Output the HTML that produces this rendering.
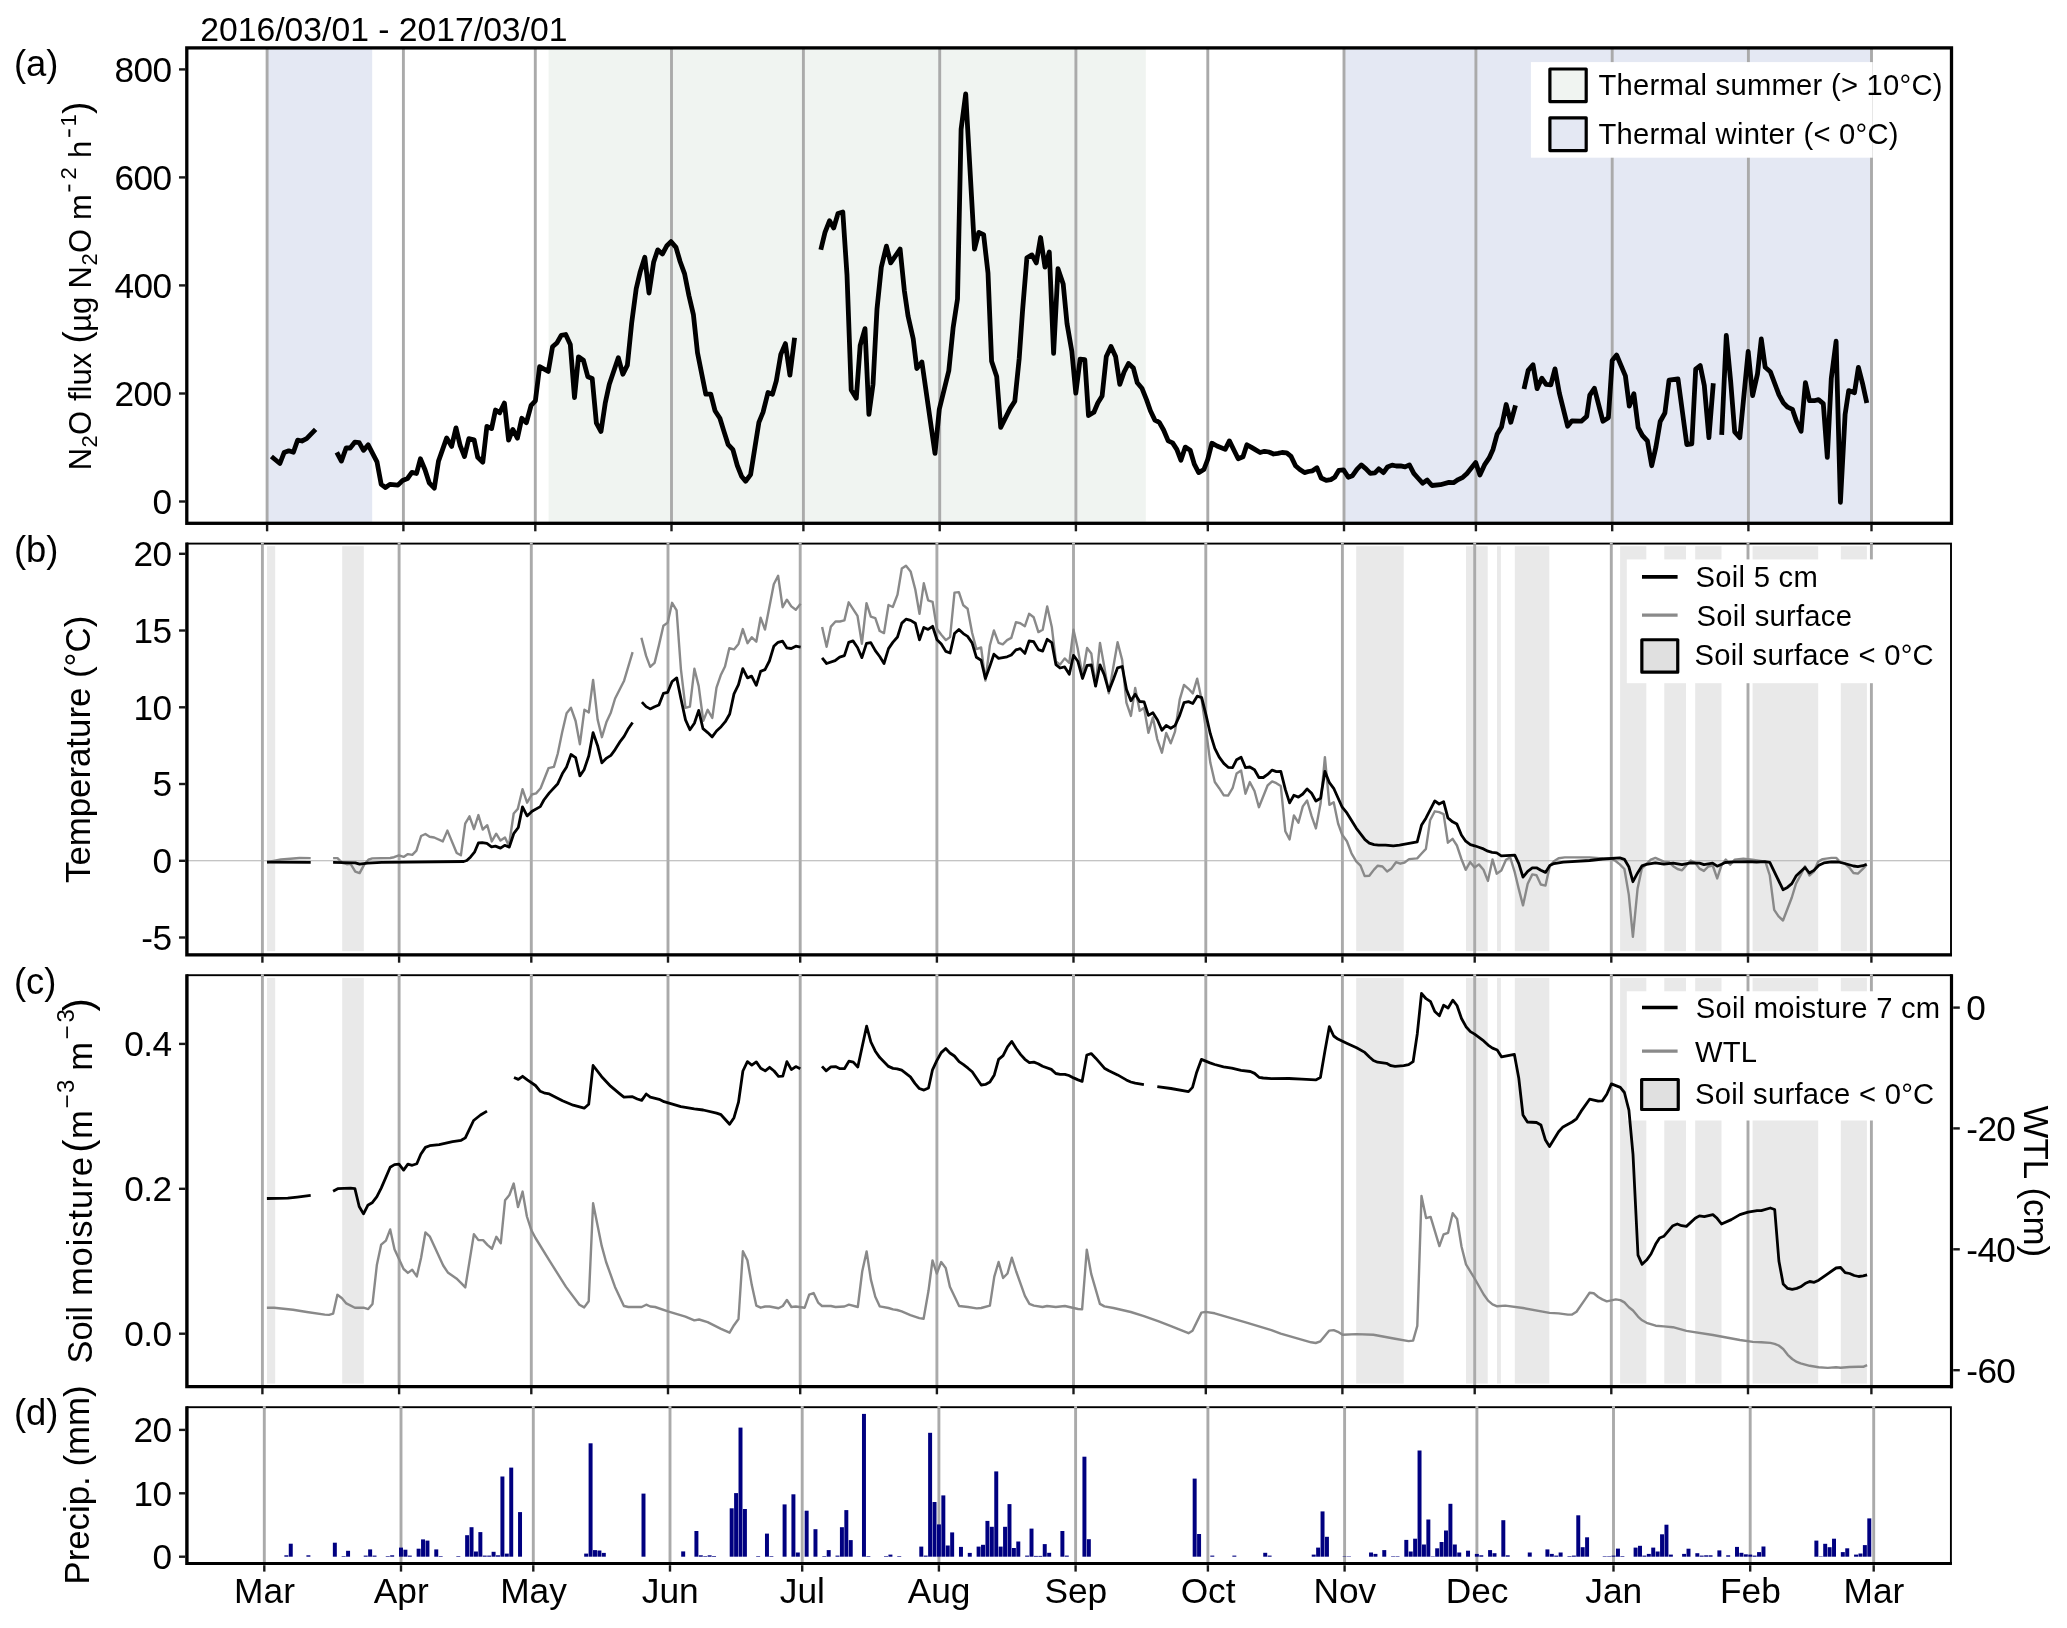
<!DOCTYPE html>
<html><head><meta charset="utf-8"><title>N2O flux time series</title>
<style>html,body{margin:0;padding:0;background:#fff}svg{display:block}</style></head>
<body>
<div id="fig" style="width:2067px;height:1628px;will-change:transform">
<svg width="2067" height="1628" viewBox="0 0 2067 1628">
<rect width="2067" height="1628" fill="#fff"/>
<g id="pa">
<rect x="267" y="47.9" width="105.2" height="475.4" fill="#e4e8f3"/>
<rect x="548.6" y="47.9" width="597.2" height="475.4" fill="#f0f4f1"/>
<rect x="1344" y="47.9" width="527.5" height="475.4" fill="#e4e8f3"/>
<line x1="267.1" x2="267.1" y1="47.9" y2="523.3" stroke="#aaaaaa" stroke-width="2.9"/>
<line x1="403.4" x2="403.4" y1="47.9" y2="523.3" stroke="#aaaaaa" stroke-width="2.9"/>
<line x1="535.3" x2="535.3" y1="47.9" y2="523.3" stroke="#aaaaaa" stroke-width="2.9"/>
<line x1="671.5" x2="671.5" y1="47.9" y2="523.3" stroke="#aaaaaa" stroke-width="2.9"/>
<line x1="803.4" x2="803.4" y1="47.9" y2="523.3" stroke="#aaaaaa" stroke-width="2.9"/>
<line x1="939.7" x2="939.7" y1="47.9" y2="523.3" stroke="#aaaaaa" stroke-width="2.9"/>
<line x1="1075.9" x2="1075.9" y1="47.9" y2="523.3" stroke="#aaaaaa" stroke-width="2.9"/>
<line x1="1207.8" x2="1207.8" y1="47.9" y2="523.3" stroke="#aaaaaa" stroke-width="2.9"/>
<line x1="1344.0" x2="1344.0" y1="47.9" y2="523.3" stroke="#aaaaaa" stroke-width="2.9"/>
<line x1="1475.9" x2="1475.9" y1="47.9" y2="523.3" stroke="#aaaaaa" stroke-width="2.9"/>
<line x1="1612.2" x2="1612.2" y1="47.9" y2="523.3" stroke="#aaaaaa" stroke-width="2.9"/>
<line x1="1748.4" x2="1748.4" y1="47.9" y2="523.3" stroke="#aaaaaa" stroke-width="2.9"/>
<line x1="1871.5" x2="1871.5" y1="47.9" y2="523.3" stroke="#aaaaaa" stroke-width="2.9"/>
<path d="M271.4 456.5 L279.9 463.5 L284.1 452.6 L288.8 450.8 L293.4 452.2 L297.6 440.2 L301.9 441.0 L306.6 438.7 L315.6 429.4 M336.8 452.3 L341.4 461.1 L346.1 448.0 L350.2 448.0 L354.9 442.1 L359.2 442.6 L363.5 450.3 L368.2 444.9 L377.0 461.9 L381.2 484.4 L385.5 487.5 L389.9 484.4 L397.9 485.1 L402.6 480.5 L407.5 478.5 L411.9 472.4 L416.5 473.5 L420.4 458.8 L425.0 469.7 L429.2 482.8 L434.3 488.2 L438.5 461.1 L446.7 437.9 L451.6 446.4 L456.0 427.9 L460.2 445.7 L464.5 456.5 L468.8 438.7 L474.1 439.8 L477.7 457.3 L482.8 462.2 L486.9 426.3 L491.6 428.6 L495.5 410.0 L499.7 412.8 L504.4 403.1 L508.6 440.2 L512.8 429.4 L517.4 438.2 L521.8 418.3 L526.4 422.7 L531.1 405.4 L535.4 400.8 L539.6 366.7 L548.3 371.4 L552.5 346.8 L557.1 342.7 L561.2 335.3 L565.7 334.5 L570.3 344.4 L574.5 397.5 L578.5 356.8 L583.4 360.2 L587.8 376.7 L592.2 378.4 L596.4 423.2 L601.0 431.5 L605.2 403.3 L609.3 384.2 L618.3 357.7 L622.9 374.3 L627.4 365.1 L631.7 322.8 L636.2 288.8 L640.3 271.4 L644.8 257.3 L649.0 293.0 L653.6 262.3 L657.7 249.9 L662.4 254.0 L666.9 245.7 L671.0 241.6 L676.0 247.4 L680.1 261.5 L684.6 273.9 L688.9 295.5 L693.4 314.6 L697.5 352.7 L705.8 394.2 L710.8 394.2 L715.0 410.7 L719.9 418.2 L723.7 430.6 L728.2 444.7 L732.9 449.7 L737.3 465.5 L741.5 476.2 L745.6 481.2 L750.6 474.6 L754.8 448.1 L758.9 422.3 L763.0 412.4 L768.0 392.5 L772.5 394.2 L776.3 380.9 L780.8 354.4 L785.4 343.6 L789.9 375.1 L794.6 337.8 M820.8 249.8 L825.0 232.4 L829.5 220.8 L833.7 228.0 L838.0 213.5 L842.8 212.0 L847.0 275.0 L851.2 390.0 L856.3 398.3 L860.2 345.3 L865.0 328.6 L868.9 414.3 L873.0 384.5 L877.0 309.0 L881.3 267.2 L886.4 246.2 L890.7 262.9 L900.1 249.1 L904.4 291.0 L908.1 316.3 L913.2 338.8 L916.8 368.5 L921.9 362.0 L935.0 453.4 L939.3 409.2 L948.8 370.7 L953.1 327.9 L957.5 299.0 L961.1 129.3 L965.7 93.8 L974.5 249.1 L978.8 232.4 L983.6 234.6 L988.0 273.0 L991.6 361.3 L996.7 376.5 L1000.7 427.3 L1010.2 408.4 L1014.8 401.2 L1019.2 358.4 L1022.6 310.0 L1026.9 257.8 L1031.9 254.9 L1036.3 262.9 L1040.6 237.5 L1045.0 267.2 L1049.3 252.0 L1053.6 353.3 L1058.0 268.7 L1063.2 284.0 L1067.0 323.5 L1071.8 351.1 L1075.8 393.2 L1080.1 359.1 L1084.8 359.7 L1088.5 415.5 L1093.9 412.2 L1097.8 403.0 L1102.1 396.0 L1106.3 356.5 L1111.0 346.4 L1115.6 356.5 L1119.8 384.4 L1124.1 372.0 L1128.5 363.5 L1133.4 368.1 L1137.3 382.8 L1141.9 388.2 L1146.6 399.9 L1150.4 410.7 L1154.8 420.0 L1159.3 422.3 L1163.6 430.0 L1168.2 440.9 L1172.6 442.9 L1176.8 449.4 L1180.9 460.2 L1185.3 447.1 L1190.2 450.2 L1194.3 464.1 L1198.7 472.6 L1203.9 469.5 L1207.7 459.5 L1211.9 443.2 L1217.0 446.0 L1225.2 449.4 L1229.4 440.9 L1234.0 450.2 L1238.2 458.7 L1243.0 456.7 L1246.9 444.8 L1251.1 447.1 L1255.7 449.9 L1260.1 452.5 L1264.5 451.3 L1268.9 452.0 L1273.5 454.0 L1277.9 453.3 L1282.0 452.5 L1286.7 452.8 L1291.0 456.4 L1295.5 465.7 L1299.8 469.5 L1304.5 472.6 L1308.4 471.5 L1312.5 470.8 L1316.9 467.7 L1321.2 478.0 L1326.2 480.4 L1330.8 479.6 L1334.7 477.3 L1338.9 470.3 L1343.5 469.8 L1348.3 477.3 L1352.5 475.7 L1357.1 469.1 L1361.3 464.9 L1366.0 468.8 L1370.3 473.4 L1374.9 472.9 L1378.8 468.8 L1383.5 472.6 L1387.5 467.0 L1392.1 465.1 L1396.3 466.0 L1400.6 465.9 L1405.1 466.9 L1409.4 464.9 L1413.8 473.4 L1417.9 478.0 L1422.6 483.2 L1427.2 480.1 L1431.9 485.5 L1440.4 484.7 L1448.9 482.4 L1453.5 482.7 L1458.2 479.6 L1462.8 477.3 L1467.0 473.4 L1471.3 468.0 L1475.7 462.6 L1479.9 475.0 L1484.5 464.9 L1489.2 457.9 L1493.0 449.4 L1497.2 433.9 L1501.5 427.0 L1506.2 404.5 L1510.8 422.3 L1515.5 405.3 M1524.0 389.0 L1528.2 370.4 L1533.0 364.7 L1537.1 388.7 L1541.8 378.2 L1546.1 384.4 L1550.8 384.8 L1555.0 368.9 L1559.3 392.9 L1567.6 426.2 L1572.0 420.8 L1581.3 421.2 L1586.7 416.4 L1589.8 395.2 L1594.4 388.3 L1602.9 421.2 L1608.4 417.7 L1612.2 360.4 L1616.6 355.0 L1625.4 375.9 L1629.3 406.1 L1633.9 393.7 L1638.2 427.7 L1642.4 435.5 L1647.4 440.9 L1651.7 465.7 L1655.9 447.1 L1660.2 421.5 L1664.9 413.0 L1669.0 380.2 L1678.0 379.0 L1686.8 444.5 L1691.8 443.8 L1695.7 369.2 L1700.2 365.5 L1704.3 385.5 L1708.9 437.7 L1713.3 383.3 M1721.7 434.8 L1726.3 335.4 L1730.7 381.8 L1734.7 431.9 L1739.8 437.7 L1748.2 351.4 L1752.6 395.6 L1757.5 373.9 L1761.3 339.0 L1765.2 367.3 L1770.3 371.7 L1774.7 383.3 L1779.0 394.9 L1783.4 402.9 L1787.7 407.2 L1792.4 409.4 L1796.4 421.0 L1801.1 431.2 L1805.4 382.6 L1809.5 400.7 L1814.3 400.7 L1818.5 399.6 L1823.3 403.6 L1827.3 457.3 L1831.3 378.2 L1836.1 341.2 L1840.4 502.3 L1845.1 414.5 L1848.7 390.6 L1854.5 392.7 L1858.4 367.3 L1862.5 383.3 L1866.8 402.9" fill="none" stroke="#000" stroke-width="4.8" stroke-linejoin="round" stroke-linecap="butt"/>
<rect x="1530.9" y="62.1" width="341.8" height="95.6" fill="#fff"/>
<rect x="1549.9" y="69.0" width="36.3" height="32.6" fill="#f0f4f1" stroke="#000" stroke-width="3.2" stroke-linejoin="round"/>
<rect x="1549.9" y="117.8" width="36.3" height="32.8" fill="#e4e8f3" stroke="#000" stroke-width="3.2" stroke-linejoin="round"/>
<text x="1598.4" y="95.4" font-size="29.2" letter-spacing="0.26" font-family="Liberation Sans, sans-serif">Thermal summer (&gt; 10°C)</text>
<text x="1598.4" y="144.0" font-size="29.2" letter-spacing="0.26" font-family="Liberation Sans, sans-serif">Thermal winter (&lt; 0°C)</text>
<rect x="186.8" y="47.9" width="1764.7" height="475.4" fill="none" stroke="#000" stroke-width="3.3"/>
<line x1="179" x2="185.5" y1="69.4" y2="69.4" stroke="#1a1a1a" stroke-width="2.4"/>
<text x="171.4" y="81.8" font-size="35.2" letter-spacing="-0.62" text-anchor="end" font-family="Liberation Sans, sans-serif">800</text>
<line x1="179" x2="185.5" y1="177.4" y2="177.4" stroke="#1a1a1a" stroke-width="2.4"/>
<text x="171.4" y="189.8" font-size="35.2" letter-spacing="-0.62" text-anchor="end" font-family="Liberation Sans, sans-serif">600</text>
<line x1="179" x2="185.5" y1="285.4" y2="285.4" stroke="#1a1a1a" stroke-width="2.4"/>
<text x="171.4" y="297.8" font-size="35.2" letter-spacing="-0.62" text-anchor="end" font-family="Liberation Sans, sans-serif">400</text>
<line x1="179" x2="185.5" y1="393.5" y2="393.5" stroke="#1a1a1a" stroke-width="2.4"/>
<text x="171.4" y="405.9" font-size="35.2" letter-spacing="-0.62" text-anchor="end" font-family="Liberation Sans, sans-serif">200</text>
<line x1="179" x2="185.5" y1="501.5" y2="501.5" stroke="#1a1a1a" stroke-width="2.4"/>
<text x="171.4" y="513.9" font-size="35.2" letter-spacing="-0.62" text-anchor="end" font-family="Liberation Sans, sans-serif">0</text>
<line x1="267.1" x2="267.1" y1="524.8" y2="531.3" stroke="#1a1a1a" stroke-width="2.4"/>
<line x1="403.4" x2="403.4" y1="524.8" y2="531.3" stroke="#1a1a1a" stroke-width="2.4"/>
<line x1="535.3" x2="535.3" y1="524.8" y2="531.3" stroke="#1a1a1a" stroke-width="2.4"/>
<line x1="671.5" x2="671.5" y1="524.8" y2="531.3" stroke="#1a1a1a" stroke-width="2.4"/>
<line x1="803.4" x2="803.4" y1="524.8" y2="531.3" stroke="#1a1a1a" stroke-width="2.4"/>
<line x1="939.7" x2="939.7" y1="524.8" y2="531.3" stroke="#1a1a1a" stroke-width="2.4"/>
<line x1="1075.9" x2="1075.9" y1="524.8" y2="531.3" stroke="#1a1a1a" stroke-width="2.4"/>
<line x1="1207.8" x2="1207.8" y1="524.8" y2="531.3" stroke="#1a1a1a" stroke-width="2.4"/>
<line x1="1344.0" x2="1344.0" y1="524.8" y2="531.3" stroke="#1a1a1a" stroke-width="2.4"/>
<line x1="1475.9" x2="1475.9" y1="524.8" y2="531.3" stroke="#1a1a1a" stroke-width="2.4"/>
<line x1="1612.2" x2="1612.2" y1="524.8" y2="531.3" stroke="#1a1a1a" stroke-width="2.4"/>
<line x1="1748.4" x2="1748.4" y1="524.8" y2="531.3" stroke="#1a1a1a" stroke-width="2.4"/>
<line x1="1871.5" x2="1871.5" y1="524.8" y2="531.3" stroke="#1a1a1a" stroke-width="2.4"/>
<text x="200.3" y="40.8" font-size="33.7" font-family="Liberation Sans, sans-serif">2016/03/01 - 2017/03/01</text>
<text x="13.9" y="75.7" font-size="36.4" font-family="Liberation Sans, sans-serif">(a)</text>
<g transform="translate(91.2,470.5) rotate(-90)">
<text x="0.2" y="0.0" font-size="31" font-family="Liberation Sans, sans-serif" >N</text>
<text x="23.0" y="5.8" font-size="22" font-family="Liberation Sans, sans-serif" >2</text>
<text x="35.6" y="0.0" font-size="31" font-family="Liberation Sans, sans-serif" >O</text>
<text x="69.5" y="0.0" font-size="31" font-family="Liberation Sans, sans-serif" >flux</text>
<text x="127.1" y="-2.0" font-size="37" font-family="Liberation Sans, sans-serif" >(</text>
<text x="138.7" y="0.0" font-size="31" font-family="Liberation Sans, sans-serif" >µg</text>
<text x="182.0" y="0.0" font-size="31" font-family="Liberation Sans, sans-serif" >N</text>
<text x="204.9" y="5.8" font-size="22" font-family="Liberation Sans, sans-serif" >2</text>
<text x="217.4" y="0.0" font-size="31" font-family="Liberation Sans, sans-serif" >O</text>
<text x="250.6" y="0.0" font-size="31" font-family="Liberation Sans, sans-serif" >m</text>
<rect x="279.0" y="-22.8" width="6.9" height="1.9" fill="#000"/>
<text x="290.9" y="-15.7" font-size="22" font-family="Liberation Sans, sans-serif" >2</text>
<text x="312.6" y="0.0" font-size="31" font-family="Liberation Sans, sans-serif" >h</text>
<rect x="333.6" y="-22.8" width="7.6" height="1.9" fill="#000"/>
<text x="343.9" y="-15.7" font-size="22" font-family="Liberation Sans, sans-serif" >1</text>
<text x="356.6" y="-2.0" font-size="37" font-family="Liberation Sans, sans-serif" >)</text>
</g>
</g>
<g id="pb">
<rect x="267.0" y="546.2" width="8.2" height="405.0" fill="#e9e9e9"/>
<rect x="342.2" y="546.2" width="21.6" height="405.0" fill="#e9e9e9"/>
<rect x="1356.2" y="546.2" width="47.5" height="405.0" fill="#e9e9e9"/>
<rect x="1466.0" y="546.2" width="21.7" height="405.0" fill="#e9e9e9"/>
<rect x="1497.0" y="546.2" width="3.9" height="405.0" fill="#e9e9e9"/>
<rect x="1514.8" y="546.2" width="34.5" height="405.0" fill="#e9e9e9"/>
<rect x="1620.1" y="546.2" width="26.2" height="405.0" fill="#e9e9e9"/>
<rect x="1664.3" y="546.2" width="21.7" height="405.0" fill="#e9e9e9"/>
<rect x="1695.2" y="546.2" width="26.3" height="405.0" fill="#e9e9e9"/>
<rect x="1752.6" y="546.2" width="65.6" height="405.0" fill="#e9e9e9"/>
<rect x="1840.8" y="546.2" width="26.1" height="405.0" fill="#e9e9e9"/>
<line x1="262.4" x2="262.4" y1="543.6" y2="954.9" stroke="#aaaaaa" stroke-width="2.9"/>
<line x1="399.1" x2="399.1" y1="543.6" y2="954.9" stroke="#aaaaaa" stroke-width="2.9"/>
<line x1="531.3" x2="531.3" y1="543.6" y2="954.9" stroke="#aaaaaa" stroke-width="2.9"/>
<line x1="668.0" x2="668.0" y1="543.6" y2="954.9" stroke="#aaaaaa" stroke-width="2.9"/>
<line x1="800.2" x2="800.2" y1="543.6" y2="954.9" stroke="#aaaaaa" stroke-width="2.9"/>
<line x1="936.9" x2="936.9" y1="543.6" y2="954.9" stroke="#aaaaaa" stroke-width="2.9"/>
<line x1="1073.5" x2="1073.5" y1="543.6" y2="954.9" stroke="#aaaaaa" stroke-width="2.9"/>
<line x1="1205.8" x2="1205.8" y1="543.6" y2="954.9" stroke="#aaaaaa" stroke-width="2.9"/>
<line x1="1342.4" x2="1342.4" y1="543.6" y2="954.9" stroke="#aaaaaa" stroke-width="2.9"/>
<line x1="1474.7" x2="1474.7" y1="543.6" y2="954.9" stroke="#aaaaaa" stroke-width="2.9"/>
<line x1="1611.3" x2="1611.3" y1="543.6" y2="954.9" stroke="#aaaaaa" stroke-width="2.9"/>
<line x1="1748.0" x2="1748.0" y1="543.6" y2="954.9" stroke="#aaaaaa" stroke-width="2.9"/>
<line x1="1871.4" x2="1871.4" y1="543.6" y2="954.9" stroke="#aaaaaa" stroke-width="2.9"/>
<rect x="1626.8" y="559.4" width="246.3" height="123.8" fill="#fff"/>
<line x1="186.8" x2="1951.0" y1="860.8" y2="860.8" stroke="#b0b0b0" stroke-width="1.1"/>
<path d="M267.0 862.3 L281.0 859.5 L299.5 858.0 L310.7 858.1 M333.1 858.1 L337.5 858.1 L342.1 862.8 L346.8 864.2 L350.6 863.9 L355.3 871.6 L359.6 873.1 L364.6 863.9 L368.4 859.7 L372.3 858.4 L390.1 858.0 L394.0 857.2 L398.9 855.3 L403.6 856.9 L407.9 854.1 L412.3 854.9 L416.4 850.7 L421.1 836.0 L425.4 834.0 L429.6 836.8 L434.2 837.5 L442.8 841.4 L447.4 830.6 L456.7 853.0 L460.9 855.3 L465.2 823.6 L469.5 816.3 L474.0 829.0 L478.4 815.1 L482.7 829.5 L487.3 825.2 L491.8 841.4 L496.2 833.7 L500.5 840.6 L505.0 837.5 L508.9 845.7 L513.7 813.5 L517.8 808.9 L522.5 789.2 L527.1 802.7 L531.8 794.5 L536.1 793.4 L540.6 788.3 L548.5 768.2 L553.9 766.9 L557.8 753.5 L562.1 732.6 L566.6 713.2 L571.0 707.8 L575.6 721.0 L579.9 744.2 L584.4 709.8 L588.8 712.4 L593.1 679.9 L597.6 719.4 L601.9 737.2 L606.6 721.7 L610.9 712.4 L615.1 698.5 L624.1 680.7 L632.6 652.1 M641.4 637.7 L646.1 655.9 L650.2 666.8 L654.6 662.9 L658.9 645.4 L663.4 625.7 L667.7 622.6 L672.1 602.8 L676.6 610.3 L680.9 669.1 L685.5 707.8 L689.9 706.7 L694.4 668.8 L698.7 686.1 L703.3 720.9 L707.7 709.8 L712.3 717.9 L716.5 687.7 L720.7 675.3 L725.0 666.5 L729.3 648.2 L734.0 649.4 L738.5 643.9 L742.8 629.1 L747.5 643.2 L751.8 637.3 L756.3 641.7 L760.6 617.7 L765.0 629.6 L773.8 584.2 L778.1 575.7 L782.6 607.2 L786.9 599.7 L791.3 606.4 L795.8 609.8 L800.6 603.8 M822.1 626.9 L826.6 646.8 L830.9 626.6 L835.5 621.5 L839.9 621.5 L844.4 620.4 L848.7 602.3 L857.5 615.8 L861.9 643.7 L866.5 603.1 L870.8 616.6 L875.3 618.1 L879.7 631.0 L884.0 633.1 L888.5 605.0 L892.8 607.0 L897.5 594.6 L901.8 568.6 L906.0 565.8 L910.6 571.4 L915.3 589.5 L919.5 613.8 L923.8 583.3 L928.1 600.3 L932.6 601.9 L937.0 629.0 L941.3 634.8 L945.9 640.1 L950.1 637.0 L954.5 592.6 L958.9 592.1 L963.3 605.3 L967.6 608.8 L972.1 632.8 L976.4 649.1 L981.1 647.5 L985.4 680.5 L989.9 645.2 L993.9 630.5 L998.6 642.9 L1002.8 644.4 L1007.1 640.1 L1011.3 637.9 L1015.9 622.3 L1020.3 623.2 L1024.9 626.2 L1029.1 613.8 L1033.7 617.3 L1038.4 632.1 L1042.7 629.7 L1047.2 606.5 L1051.8 626.9 L1055.9 661.5 L1060.0 664.6 L1064.7 658.4 L1069.3 663.0 L1073.5 629.7 L1077.8 649.1 L1082.5 675.4 L1087.1 648.0 L1091.3 653.4 L1095.6 685.9 L1100.0 642.9 L1104.2 666.1 L1108.8 693.2 L1117.6 642.3 L1122.2 660.1 L1126.4 702.6 L1130.9 715.9 L1135.2 688.0 L1139.7 710.9 L1144.1 707.7 L1148.4 732.9 L1152.9 717.4 L1157.2 739.1 L1161.9 752.7 L1166.2 732.9 L1170.7 743.3 L1175.0 731.7 L1179.7 699.6 L1184.0 684.9 L1188.5 688.8 L1192.8 693.4 L1197.2 678.7 L1201.7 700.1 L1206.0 729.8 L1210.3 762.6 L1214.8 782.0 L1219.2 788.2 L1223.8 795.3 L1228.1 795.6 L1232.6 788.2 L1236.6 773.5 L1241.1 770.5 L1245.5 793.7 L1249.8 782.1 L1254.5 791.0 L1258.9 807.2 L1267.6 785.5 L1272.1 781.4 L1276.4 783.2 L1280.8 786.0 L1285.3 831.2 L1289.6 839.4 L1293.9 815.4 L1298.4 822.7 L1302.8 806.4 L1307.1 800.5 L1311.6 816.2 L1315.9 828.4 L1320.6 803.3 L1324.9 757.2 L1329.4 804.9 L1333.7 802.3 L1338.1 823.5 L1342.2 834.8 L1346.9 841.3 L1351.5 853.3 L1356.2 861.4 L1360.5 865.6 L1364.7 876.1 L1369.3 875.8 L1374.0 869.6 L1377.8 865.7 L1382.5 866.5 L1387.1 871.5 L1391.5 868.4 L1396.0 862.2 L1400.3 863.7 L1404.6 862.5 L1409.1 859.1 L1417.2 858.4 L1421.6 853.5 L1425.9 848.9 L1430.1 820.3 L1434.8 811.3 L1439.1 812.2 L1443.6 814.1 L1447.9 842.7 L1452.6 838.8 L1456.9 845.5 L1461.4 859.0 L1465.7 869.8 L1470.1 862.1 L1474.6 867.5 L1478.9 864.4 L1483.5 869.8 L1487.9 880.9 L1492.5 859.4 L1496.7 873.7 L1501.3 870.6 L1506.0 859.7 L1510.2 857.4 L1514.5 871.3 L1518.8 889.1 L1523.0 905.4 L1527.7 883.7 L1532.3 874.4 L1536.5 875.2 L1540.8 884.5 L1545.5 885.6 L1549.8 865.9 L1554.0 861.3 L1558.6 858.2 L1564.8 857.4 L1589.6 857.4 L1602.8 858.5 L1611.3 859.0 L1615.6 861.0 L1619.8 864.4 L1624.4 869.0 L1628.8 894.6 L1632.9 936.8 L1637.6 888.4 L1641.9 868.3 L1650.8 859.7 L1655.4 857.9 L1663.9 861.6 L1668.9 862.1 L1673.2 866.2 L1677.5 869.0 L1682.0 870.3 L1686.4 865.2 L1690.7 860.5 L1695.2 862.8 L1699.5 868.6 L1703.9 870.9 L1708.3 866.5 L1712.7 865.5 L1717.2 878.4 L1721.5 865.2 L1725.8 859.6 L1730.2 864.8 L1734.6 859.7 L1743.4 858.7 L1752.2 859.7 L1765.4 861.6 L1769.8 875.5 L1774.2 909.8 L1778.6 916.4 L1783.0 920.5 L1791.8 897.5 L1796.0 883.6 L1800.6 875.1 L1805.0 866.3 L1809.4 875.5 L1813.8 871.7 L1818.2 861.6 L1822.6 859.1 L1831.4 857.9 L1836.2 857.9 L1840.3 862.0 L1844.7 863.5 L1849.1 867.3 L1853.5 873.0 L1857.9 873.6 L1862.9 868.9 L1866.7 864.8" fill="none" stroke="#898989" stroke-width="2.4" stroke-linejoin="round"/>
<path d="M267.0 862.2 L310.7 862.3 M333.1 862.3 L355.3 862.8 L359.6 864.2 L367.7 863.1 L381.6 862.3 L463.7 861.5 L466.8 860.5 L470.6 856.9 L474.5 852.2 L478.4 843.0 L482.2 842.6 L486.9 843.4 L491.5 846.8 L495.4 846.1 L500.5 848.1 L504.7 845.3 L509.3 847.1 L513.7 833.7 L518.3 827.5 L522.5 806.9 L527.1 815.9 L532.1 811.2 L540.3 806.6 L543.9 800.0 L549.3 792.9 L557.8 783.7 L562.4 773.6 L566.6 766.9 L571.0 754.5 L575.6 757.6 L579.9 775.9 L584.1 769.7 L588.8 755.8 L593.1 732.6 L597.6 745.7 L601.9 762.8 L606.6 758.1 L610.9 755.3 L615.1 749.6 L619.7 742.2 L624.1 736.4 L628.6 728.2 L632.6 722.5 M641.9 702.1 L646.1 706.6 L650.2 708.9 L654.6 706.7 L658.9 705.0 L663.4 693.4 L667.7 692.3 L672.1 681.5 L676.7 677.9 L680.9 698.5 L685.5 719.9 L689.9 729.8 L694.4 723.3 L698.7 710.4 L703.0 728.7 L707.7 732.6 L712.2 736.9 L716.5 731.0 L721.1 726.7 L725.3 721.7 L729.7 714.0 L734.0 693.9 L738.5 684.6 L742.8 668.6 L747.5 677.9 L751.6 676.1 L756.3 685.3 L760.6 671.4 L765.0 669.6 L769.4 661.0 L773.8 646.3 L778.1 642.3 L782.6 641.2 L786.9 647.9 L791.3 648.5 L795.8 646.2 L800.6 647.1 M822.1 657.9 L826.6 663.5 L835.1 660.7 L839.7 657.1 L844.4 655.6 L848.7 642.4 L853.0 640.9 L857.5 647.5 L861.9 657.6 L866.5 643.4 L870.8 642.6 L875.3 650.6 L879.7 656.5 L884.0 663.5 L888.5 648.6 L892.8 642.4 L897.5 637.0 L901.8 623.1 L906.0 619.2 L910.6 620.4 L915.3 623.2 L919.5 639.8 L923.8 627.4 L928.1 629.4 L932.6 626.3 L937.0 639.8 L941.3 644.0 L945.9 651.4 L950.1 653.0 L954.5 633.6 L958.9 629.4 L963.3 633.6 L967.6 636.4 L972.1 642.9 L976.4 657.3 L981.1 660.2 L985.4 678.5 L989.9 666.1 L993.9 654.2 L998.6 658.4 L1007.1 656.8 L1011.3 655.0 L1015.9 649.9 L1020.3 648.6 L1024.9 653.4 L1029.1 641.0 L1033.7 641.7 L1038.4 649.6 L1042.7 651.1 L1047.2 639.3 L1051.8 642.6 L1055.9 664.6 L1060.0 668.0 L1064.7 666.9 L1069.3 674.3 L1073.5 655.3 L1077.8 661.2 L1082.5 678.5 L1087.1 665.3 L1091.3 665.0 L1095.6 686.2 L1100.0 664.9 L1104.2 674.6 L1108.8 690.9 L1113.5 679.0 L1117.6 667.8 L1122.2 666.5 L1126.5 689.4 L1130.9 700.8 L1135.2 694.2 L1139.7 701.5 L1144.1 701.9 L1148.4 715.4 L1152.9 712.8 L1157.5 720.0 L1161.9 730.3 L1166.2 725.5 L1170.7 728.3 L1175.0 725.6 L1179.7 715.4 L1184.0 702.7 L1188.5 701.6 L1192.8 703.5 L1197.2 696.2 L1201.7 697.6 L1206.0 714.8 L1210.3 733.7 L1214.8 748.4 L1219.2 757.2 L1223.8 763.4 L1228.1 767.3 L1232.6 767.7 L1236.6 759.7 L1241.1 757.2 L1245.5 767.7 L1249.8 767.0 L1254.5 769.7 L1258.9 777.5 L1263.3 777.5 L1267.6 774.4 L1272.1 770.1 L1276.4 771.6 L1280.8 771.3 L1285.3 789.4 L1289.6 802.9 L1293.9 795.3 L1298.4 797.1 L1302.8 794.0 L1307.1 788.9 L1311.6 793.3 L1315.9 801.0 L1320.6 798.2 L1324.9 771.3 L1329.4 782.7 L1333.7 788.3 L1342.2 807.2 L1346.9 812.9 L1356.2 828.1 L1365.0 839.7 L1369.3 843.1 L1374.0 844.7 L1378.6 845.1 L1385.6 845.1 L1393.3 845.9 L1399.5 845.1 L1417.2 841.8 L1421.6 824.9 L1425.9 818.2 L1434.8 800.9 L1439.1 804.0 L1443.6 801.7 L1447.9 817.9 L1452.6 821.8 L1456.9 824.1 L1461.4 835.0 L1465.7 841.2 L1470.4 844.6 L1474.6 845.8 L1478.9 847.3 L1483.5 848.9 L1487.9 851.2 L1492.1 852.3 L1496.7 852.8 L1501.3 855.9 L1514.8 855.1 L1518.8 863.6 L1523.0 877.1 L1527.7 871.3 L1532.3 867.9 L1536.5 867.8 L1540.8 870.3 L1545.5 872.4 L1549.8 865.6 L1554.0 863.6 L1563.3 862.1 L1589.6 860.5 L1602.8 859.0 L1619.8 857.9 L1624.4 859.3 L1628.8 866.7 L1632.9 881.7 L1637.6 872.9 L1641.9 865.9 L1646.4 864.4 L1655.4 862.8 L1663.9 864.1 L1673.2 863.1 L1682.0 864.7 L1690.7 862.8 L1699.5 863.1 L1704.0 864.6 L1712.6 863.2 L1717.2 866.2 L1721.6 864.2 L1725.2 862.5 L1734.0 861.9 L1747.8 861.6 L1756.6 862.0 L1764.8 861.6 L1769.8 862.3 L1783.0 889.7 L1787.4 887.4 L1791.8 883.6 L1796.0 876.1 L1805.0 867.5 L1809.4 873.0 L1813.8 870.4 L1818.9 865.2 L1823.9 862.9 L1831.4 861.9 L1838.4 862.0 L1844.7 863.5 L1853.5 866.0 L1857.9 866.7 L1862.9 865.7 L1866.7 864.2" fill="none" stroke="#000" stroke-width="2.8" stroke-linejoin="round"/>
<line x1="1642" x2="1677.6" y1="576.9" y2="576.9" stroke="#000" stroke-width="3.6"/>
<line x1="1642" x2="1677.6" y1="615.1" y2="615.1" stroke="#8a8a8a" stroke-width="3.3"/>
<rect x="1641.85" y="639.75" width="35.9" height="32.4" fill="#e0e0e0" stroke="#000" stroke-width="3.2" stroke-linejoin="round"/>
<text x="1695.6" y="586.6" font-size="29.2" letter-spacing="0.26" font-family="Liberation Sans, sans-serif">Soil 5 cm</text>
<text x="1696.6" y="625.6" font-size="29.2" letter-spacing="0.26" font-family="Liberation Sans, sans-serif">Soil surface</text>
<text x="1694.5" y="665.1" font-size="29.2" letter-spacing="0.26" font-family="Liberation Sans, sans-serif">Soil surface &lt; 0°C</text>
<rect x="187.4" y="543.6" width="1763.6" height="411.2" fill="none" stroke="#000" stroke-width="1.9"/>
<path d="M186.8 542.6 L186.8 954.9 L1952.0 954.9" fill="none" stroke="#000" stroke-width="3.2" stroke-linecap="butt" stroke-linejoin="miter"/>
<line x1="262.4" x2="262.4" y1="542.65" y2="544.55" stroke="#c9c9c9" stroke-width="2.9"/>
<line x1="399.1" x2="399.1" y1="542.65" y2="544.55" stroke="#c9c9c9" stroke-width="2.9"/>
<line x1="531.3" x2="531.3" y1="542.65" y2="544.55" stroke="#c9c9c9" stroke-width="2.9"/>
<line x1="668.0" x2="668.0" y1="542.65" y2="544.55" stroke="#c9c9c9" stroke-width="2.9"/>
<line x1="800.2" x2="800.2" y1="542.65" y2="544.55" stroke="#c9c9c9" stroke-width="2.9"/>
<line x1="936.9" x2="936.9" y1="542.65" y2="544.55" stroke="#c9c9c9" stroke-width="2.9"/>
<line x1="1073.5" x2="1073.5" y1="542.65" y2="544.55" stroke="#c9c9c9" stroke-width="2.9"/>
<line x1="1205.8" x2="1205.8" y1="542.65" y2="544.55" stroke="#c9c9c9" stroke-width="2.9"/>
<line x1="1342.4" x2="1342.4" y1="542.65" y2="544.55" stroke="#c9c9c9" stroke-width="2.9"/>
<line x1="1474.7" x2="1474.7" y1="542.65" y2="544.55" stroke="#c9c9c9" stroke-width="2.9"/>
<line x1="1611.3" x2="1611.3" y1="542.65" y2="544.55" stroke="#c9c9c9" stroke-width="2.9"/>
<line x1="1748.0" x2="1748.0" y1="542.65" y2="544.55" stroke="#c9c9c9" stroke-width="2.9"/>
<line x1="1871.4" x2="1871.4" y1="542.65" y2="544.55" stroke="#c9c9c9" stroke-width="2.9"/>
<line x1="179" x2="185.5" y1="553.8" y2="553.8" stroke="#1a1a1a" stroke-width="2.4"/>
<text x="171.4" y="566.2" font-size="35.2" letter-spacing="-0.62" text-anchor="end" font-family="Liberation Sans, sans-serif">20</text>
<line x1="179" x2="185.5" y1="630.5" y2="630.5" stroke="#1a1a1a" stroke-width="2.4"/>
<text x="171.4" y="642.9" font-size="35.2" letter-spacing="-0.62" text-anchor="end" font-family="Liberation Sans, sans-serif">15</text>
<line x1="179" x2="185.5" y1="707.3" y2="707.3" stroke="#1a1a1a" stroke-width="2.4"/>
<text x="171.4" y="719.7" font-size="35.2" letter-spacing="-0.62" text-anchor="end" font-family="Liberation Sans, sans-serif">10</text>
<line x1="179" x2="185.5" y1="784.0" y2="784.0" stroke="#1a1a1a" stroke-width="2.4"/>
<text x="171.4" y="796.4" font-size="35.2" letter-spacing="-0.62" text-anchor="end" font-family="Liberation Sans, sans-serif">5</text>
<line x1="179" x2="185.5" y1="860.8" y2="860.8" stroke="#1a1a1a" stroke-width="2.4"/>
<text x="171.4" y="873.2" font-size="35.2" letter-spacing="-0.62" text-anchor="end" font-family="Liberation Sans, sans-serif">0</text>
<line x1="179" x2="185.5" y1="937.5" y2="937.5" stroke="#1a1a1a" stroke-width="2.4"/>
<text x="171.4" y="949.9" font-size="35.2" letter-spacing="-0.62" text-anchor="end" font-family="Liberation Sans, sans-serif">-5</text>
<line x1="262.4" x2="262.4" y1="956.2" y2="962.7" stroke="#1a1a1a" stroke-width="2.4"/>
<line x1="399.1" x2="399.1" y1="956.2" y2="962.7" stroke="#1a1a1a" stroke-width="2.4"/>
<line x1="531.3" x2="531.3" y1="956.2" y2="962.7" stroke="#1a1a1a" stroke-width="2.4"/>
<line x1="668.0" x2="668.0" y1="956.2" y2="962.7" stroke="#1a1a1a" stroke-width="2.4"/>
<line x1="800.2" x2="800.2" y1="956.2" y2="962.7" stroke="#1a1a1a" stroke-width="2.4"/>
<line x1="936.9" x2="936.9" y1="956.2" y2="962.7" stroke="#1a1a1a" stroke-width="2.4"/>
<line x1="1073.5" x2="1073.5" y1="956.2" y2="962.7" stroke="#1a1a1a" stroke-width="2.4"/>
<line x1="1205.8" x2="1205.8" y1="956.2" y2="962.7" stroke="#1a1a1a" stroke-width="2.4"/>
<line x1="1342.4" x2="1342.4" y1="956.2" y2="962.7" stroke="#1a1a1a" stroke-width="2.4"/>
<line x1="1474.7" x2="1474.7" y1="956.2" y2="962.7" stroke="#1a1a1a" stroke-width="2.4"/>
<line x1="1611.3" x2="1611.3" y1="956.2" y2="962.7" stroke="#1a1a1a" stroke-width="2.4"/>
<line x1="1748.0" x2="1748.0" y1="956.2" y2="962.7" stroke="#1a1a1a" stroke-width="2.4"/>
<line x1="1871.4" x2="1871.4" y1="956.2" y2="962.7" stroke="#1a1a1a" stroke-width="2.4"/>
<text x="13.9" y="562.1" font-size="36.4" font-family="Liberation Sans, sans-serif">(b)</text>
<text transform="translate(90.3,749.4) rotate(-90)" font-size="34.8" text-anchor="middle" font-family="Liberation Sans, sans-serif">Temperature (°C)</text>
</g>
<g id="pc">
<rect x="267.0" y="977.9" width="8.2" height="405.7" fill="#e9e9e9"/>
<rect x="342.2" y="977.9" width="21.6" height="405.7" fill="#e9e9e9"/>
<rect x="1356.2" y="977.9" width="47.5" height="405.7" fill="#e9e9e9"/>
<rect x="1466.0" y="977.9" width="21.7" height="405.7" fill="#e9e9e9"/>
<rect x="1497.0" y="977.9" width="3.9" height="405.7" fill="#e9e9e9"/>
<rect x="1514.8" y="977.9" width="34.5" height="405.7" fill="#e9e9e9"/>
<rect x="1620.1" y="977.9" width="26.2" height="405.7" fill="#e9e9e9"/>
<rect x="1664.3" y="977.9" width="21.7" height="405.7" fill="#e9e9e9"/>
<rect x="1695.2" y="977.9" width="26.3" height="405.7" fill="#e9e9e9"/>
<rect x="1752.6" y="977.9" width="65.6" height="405.7" fill="#e9e9e9"/>
<rect x="1840.8" y="977.9" width="26.1" height="405.7" fill="#e9e9e9"/>
<line x1="262.4" x2="262.4" y1="975.2" y2="1386.7" stroke="#aaaaaa" stroke-width="2.9"/>
<line x1="399.1" x2="399.1" y1="975.2" y2="1386.7" stroke="#aaaaaa" stroke-width="2.9"/>
<line x1="531.3" x2="531.3" y1="975.2" y2="1386.7" stroke="#aaaaaa" stroke-width="2.9"/>
<line x1="668.0" x2="668.0" y1="975.2" y2="1386.7" stroke="#aaaaaa" stroke-width="2.9"/>
<line x1="800.2" x2="800.2" y1="975.2" y2="1386.7" stroke="#aaaaaa" stroke-width="2.9"/>
<line x1="936.9" x2="936.9" y1="975.2" y2="1386.7" stroke="#aaaaaa" stroke-width="2.9"/>
<line x1="1073.5" x2="1073.5" y1="975.2" y2="1386.7" stroke="#aaaaaa" stroke-width="2.9"/>
<line x1="1205.8" x2="1205.8" y1="975.2" y2="1386.7" stroke="#aaaaaa" stroke-width="2.9"/>
<line x1="1342.4" x2="1342.4" y1="975.2" y2="1386.7" stroke="#aaaaaa" stroke-width="2.9"/>
<line x1="1474.7" x2="1474.7" y1="975.2" y2="1386.7" stroke="#aaaaaa" stroke-width="2.9"/>
<line x1="1611.3" x2="1611.3" y1="975.2" y2="1386.7" stroke="#aaaaaa" stroke-width="2.9"/>
<line x1="1748.0" x2="1748.0" y1="975.2" y2="1386.7" stroke="#aaaaaa" stroke-width="2.9"/>
<line x1="1871.4" x2="1871.4" y1="975.2" y2="1386.7" stroke="#aaaaaa" stroke-width="2.9"/>
<rect x="1626.8" y="991.3" width="246.3" height="129.2" fill="#fff"/>
<path d="M266.9 1307.7 L274.1 1307.7 L293.0 1309.7 L306.8 1312.0 L324.8 1314.6 L329.1 1314.9 L333.1 1313.7 L337.4 1294.8 L342.0 1298.2 L346.3 1303.4 L354.9 1307.7 L363.5 1307.7 L368.2 1309.1 L372.5 1303.9 L376.9 1264.7 L381.2 1244.6 L385.9 1240.6 L390.2 1229.4 L394.5 1249.2 L399.0 1259.0 L403.6 1269.0 L407.9 1272.9 L412.2 1269.8 L416.8 1276.4 L421.1 1257.8 L425.4 1232.5 L429.7 1236.3 L443.2 1265.5 L447.8 1272.4 L456.4 1278.4 L461.2 1283.1 L465.3 1287.4 L473.9 1234.1 L478.4 1240.1 L483.1 1240.1 L487.4 1244.9 L492.0 1248.7 L496.3 1236.8 L500.8 1243.2 L505.1 1200.2 L509.4 1195.0 L513.7 1183.5 L518.0 1207.1 L522.6 1191.6 L526.9 1216.5 L531.4 1230.3 L535.5 1238.0 L549.3 1260.4 L566.0 1286.9 L579.4 1304.7 L584.2 1307.4 L588.7 1301.2 L593.1 1203.2 L601.7 1245.9 L606.1 1262.0 L615.0 1286.9 L623.9 1306.0 L628.4 1307.0 L641.7 1307.0 L646.2 1304.7 L650.3 1306.5 L655.1 1307.0 L667.9 1311.3 L685.4 1316.7 L694.3 1320.4 L699.1 1319.5 L707.6 1322.2 L721.0 1328.8 L729.6 1332.7 L734.0 1325.2 L738.5 1319.0 L742.9 1251.3 L747.4 1260.2 L751.8 1285.1 L756.3 1305.6 L760.7 1307.7 L765.2 1306.5 L769.6 1306.5 L778.5 1308.3 L782.8 1306.0 L786.9 1299.9 L791.4 1307.0 L795.8 1306.5 L804.7 1307.7 L809.2 1294.6 L813.6 1293.1 L818.1 1302.6 L822.0 1306.0 L830.9 1306.0 L835.5 1307.0 L844.4 1306.5 L848.9 1304.7 L857.8 1307.0 L862.2 1271.5 L866.6 1251.5 L870.9 1279.6 L875.3 1296.8 L879.8 1306.4 L888.5 1308.0 L893.0 1309.4 L897.2 1310.0 L901.7 1311.4 L910.4 1315.1 L919.3 1318.1 L923.6 1318.7 L928.5 1290.8 L932.5 1260.4 L936.8 1273.5 L941.2 1262.0 L945.7 1267.9 L949.9 1286.7 L959.1 1306.0 L968.0 1307.0 L976.7 1308.4 L981.2 1308.0 L989.9 1305.6 L994.3 1276.6 L998.6 1262.0 L1003.1 1278.0 L1007.5 1273.5 L1011.8 1257.7 L1016.2 1271.5 L1024.9 1295.8 L1029.4 1303.9 L1033.9 1305.6 L1042.6 1307.0 L1047.0 1306.0 L1055.8 1307.0 L1064.9 1306.0 L1073.6 1308.0 L1078.1 1309.0 L1082.1 1309.4 L1086.8 1249.6 L1091.2 1273.9 L1099.9 1303.9 L1104.4 1306.4 L1113.5 1308.0 L1130.8 1312.0 L1143.9 1316.1 L1158.1 1321.2 L1171.0 1326.2 L1188.5 1333.2 L1192.5 1330.8 L1201.4 1312.6 L1205.6 1311.9 L1214.7 1313.3 L1245.7 1322.4 L1271.4 1330.1 L1280.7 1333.6 L1311.1 1342.3 L1315.7 1343.0 L1320.4 1341.3 L1329.3 1330.6 L1333.7 1330.1 L1337.9 1331.8 L1342.6 1334.8 L1356.6 1334.1 L1373.4 1334.8 L1395.1 1338.8 L1408.6 1341.1 L1413.1 1340.6 L1417.3 1325.9 L1421.5 1195.9 L1426.1 1218.1 L1430.6 1216.9 L1439.4 1246.1 L1443.6 1234.4 L1448.1 1232.8 L1452.7 1213.2 L1457.1 1219.0 L1461.5 1246.5 L1466.0 1264.4 L1474.6 1278.5 L1483.7 1294.5 L1488.1 1300.6 L1492.5 1304.3 L1497.2 1306.3 L1505.3 1305.6 L1523.0 1308.0 L1549.5 1312.9 L1558.6 1313.4 L1567.9 1314.6 L1572.1 1314.6 L1576.5 1311.7 L1585.1 1299.4 L1589.6 1292.8 L1593.7 1293.3 L1598.2 1297.0 L1602.3 1299.4 L1606.8 1301.4 L1615.8 1299.4 L1620.3 1300.1 L1624.4 1302.4 L1628.9 1307.3 L1633.0 1310.5 L1638.0 1316.6 L1642.1 1320.3 L1646.6 1322.8 L1655.7 1325.7 L1663.8 1326.4 L1672.9 1327.2 L1686.4 1330.9 L1712.9 1335.0 L1739.9 1340.0 L1752.9 1341.9 L1761.3 1342.2 L1770.3 1342.9 L1774.6 1343.8 L1778.7 1345.5 L1783.2 1349.0 L1787.7 1354.8 L1792.2 1359.0 L1796.8 1361.9 L1800.6 1363.4 L1809.7 1365.8 L1818.7 1367.3 L1827.7 1367.9 L1836.1 1367.3 L1840.6 1367.7 L1849.6 1367.0 L1858.7 1366.8 L1863.2 1366.8 L1867.1 1365.1" fill="none" stroke="#898989" stroke-width="2.4" stroke-linejoin="round"/>
<path d="M266.9 1198.5 L287.8 1198.1 L297.3 1197.1 L310.7 1195.4 M333.1 1191.2 L337.7 1188.7 L350.6 1188.1 L354.9 1188.7 L359.2 1206.5 L363.5 1213.9 L367.8 1205.3 L372.1 1202.8 L376.9 1196.7 L381.2 1188.1 L390.2 1167.2 L394.5 1164.6 L399.0 1164.1 L403.6 1170.1 L407.9 1164.1 L412.2 1165.3 L416.8 1163.7 L420.8 1154.3 L425.4 1147.4 L429.7 1145.7 L439.2 1144.6 L452.6 1141.7 L461.2 1140.3 L465.3 1137.9 L473.6 1120.5 L480.5 1115.0 L487.0 1111.1 M514.0 1077.5 L518.3 1079.4 L522.6 1076.3 L527.3 1079.8 L535.5 1085.5 L540.3 1091.3 L545.0 1093.2 L549.3 1093.9 L562.5 1100.8 L573.2 1105.2 L584.2 1108.2 L588.7 1104.3 L593.1 1065.5 L601.7 1076.7 L610.6 1086.2 L619.5 1093.6 L623.9 1097.2 L632.5 1096.7 L637.3 1099.0 L641.7 1100.4 L646.2 1094.0 L650.3 1097.2 L659.2 1099.3 L664.0 1101.7 L680.9 1106.6 L694.3 1108.8 L703.2 1110.0 L716.6 1113.2 L721.0 1114.7 L729.6 1124.3 L734.0 1117.7 L738.5 1102.2 L742.9 1071.0 L747.4 1061.6 L751.8 1065.1 L756.3 1061.9 L760.7 1068.3 L765.2 1070.8 L769.6 1067.3 L774.1 1071.0 L778.5 1076.4 L782.8 1076.2 L786.9 1061.6 L791.4 1069.6 L795.8 1066.6 L800.3 1068.7 M822.0 1066.4 L826.1 1070.8 L830.9 1066.9 L835.5 1066.6 L840.0 1068.7 L844.4 1068.7 L848.9 1061.2 L853.3 1062.1 L857.8 1067.0 L866.6 1026.2 L870.9 1042.0 L875.3 1051.2 L879.8 1057.6 L888.5 1066.4 L893.0 1068.4 L897.2 1068.8 L901.7 1070.2 L910.4 1076.9 L914.9 1083.4 L919.3 1088.5 L924.0 1090.1 L928.5 1088.0 L932.5 1069.8 L936.8 1060.7 L941.2 1052.6 L945.7 1048.5 L949.9 1053.0 L954.4 1056.0 L959.1 1061.7 L963.5 1064.7 L968.0 1068.2 L972.2 1071.8 L981.2 1085.0 L985.4 1084.4 L989.9 1082.0 L994.3 1074.9 L998.6 1059.3 L1003.1 1055.6 L1007.5 1046.9 L1011.8 1041.4 L1016.2 1048.5 L1020.7 1054.6 L1024.9 1059.3 L1029.4 1062.7 L1033.9 1062.1 L1038.1 1063.7 L1042.6 1066.2 L1051.3 1069.4 L1055.8 1073.5 L1060.2 1074.3 L1064.9 1074.3 L1068.9 1075.5 L1073.6 1077.9 L1078.1 1079.9 L1082.1 1081.4 L1086.8 1055.0 L1091.2 1053.6 L1095.7 1058.2 L1104.4 1068.2 L1108.9 1070.8 L1117.6 1074.9 L1126.3 1079.9 L1130.8 1082.0 L1135.2 1083.2 L1143.9 1084.6 M1157.3 1086.7 L1171.0 1088.5 L1188.5 1091.6 L1192.5 1087.4 L1196.7 1072.2 L1201.4 1059.4 L1210.0 1062.9 L1214.7 1064.5 L1223.5 1066.8 L1231.7 1068.2 L1241.0 1070.3 L1250.4 1071.5 L1254.6 1073.4 L1259.0 1077.3 L1263.2 1078.0 L1271.4 1078.7 L1288.9 1078.5 L1301.7 1079.2 L1315.7 1079.9 L1320.4 1077.6 L1325.1 1050.0 L1329.3 1026.7 L1333.7 1036.0 L1337.9 1039.1 L1347.2 1043.5 L1356.6 1047.7 L1364.8 1052.4 L1369.4 1057.0 L1373.4 1060.5 L1377.6 1062.2 L1386.5 1063.3 L1390.9 1065.7 L1395.1 1066.4 L1403.7 1065.7 L1408.6 1064.7 L1413.1 1061.7 L1417.3 1033.7 L1421.5 993.5 L1426.1 998.7 L1430.6 1001.7 L1434.8 1011.5 L1439.4 1015.7 L1443.6 1005.2 L1448.1 1008.0 L1452.8 1000.1 L1457.0 1005.5 L1461.5 1018.5 L1466.0 1026.7 L1470.4 1031.6 L1474.6 1034.1 L1483.7 1040.9 L1488.1 1045.1 L1492.5 1048.1 L1497.2 1050.0 L1501.6 1056.9 L1514.4 1054.4 L1518.8 1078.3 L1523.0 1115.1 L1527.4 1122.0 L1536.5 1122.5 L1540.9 1125.0 L1545.3 1139.7 L1549.5 1146.6 L1558.6 1131.8 L1563.0 1126.9 L1572.1 1122.0 L1576.5 1118.8 L1581.0 1111.4 L1589.6 1099.2 L1598.2 1101.1 L1602.3 1100.9 L1606.8 1094.3 L1611.4 1083.9 L1620.3 1087.4 L1624.4 1092.5 L1628.9 1110.2 L1633.0 1154.4 L1638.0 1255.2 L1642.1 1264.3 L1646.6 1260.1 L1651.0 1254.0 L1655.7 1244.1 L1659.6 1238.0 L1663.8 1236.3 L1672.9 1225.7 L1677.3 1224.0 L1681.7 1225.7 L1686.4 1226.4 L1695.2 1218.3 L1699.4 1215.9 L1704.3 1216.6 L1712.9 1214.6 L1717.1 1218.3 L1721.5 1224.0 L1731.3 1219.6 L1739.9 1214.6 L1748.0 1212.2 L1757.1 1210.6 L1761.3 1210.6 L1770.3 1208.0 L1774.7 1209.5 L1778.9 1261.0 L1783.2 1284.0 L1787.7 1288.4 L1792.2 1289.4 L1796.8 1288.4 L1800.6 1286.8 L1805.1 1283.6 L1809.7 1281.5 L1814.2 1282.3 L1818.7 1280.2 L1827.7 1273.8 L1836.1 1268.0 L1840.6 1267.5 L1845.1 1272.6 L1849.6 1273.5 L1854.2 1275.5 L1858.7 1276.5 L1863.2 1275.8 L1867.1 1274.8" fill="none" stroke="#000" stroke-width="2.8" stroke-linejoin="round"/>
<line x1="1642" x2="1677.6" y1="1007.5" y2="1007.5" stroke="#000" stroke-width="3.6"/>
<line x1="1642" x2="1677.6" y1="1051.1" y2="1051.1" stroke="#8a8a8a" stroke-width="3.3"/>
<rect x="1641.65" y="1079.5" width="36.6" height="30.0" fill="#e0e0e0" stroke="#000" stroke-width="3.2" stroke-linejoin="round"/>
<text x="1695.7" y="1017.9" font-size="29.2" letter-spacing="0.26" font-family="Liberation Sans, sans-serif">Soil moisture 7 cm</text>
<text x="1694.9" y="1061.6" font-size="29.2" letter-spacing="0.26" font-family="Liberation Sans, sans-serif">WTL</text>
<text x="1695.0" y="1104.4" font-size="29.2" letter-spacing="0.26" font-family="Liberation Sans, sans-serif">Soil surface &lt; 0°C</text>
<rect x="187.4" y="975.2" width="1764.1" height="411.5" fill="none" stroke="#000" stroke-width="1.9"/>
<path d="M186.8 974.2 L186.8 1386.7 L1952.4 1386.7" fill="none" stroke="#000" stroke-width="3.2" stroke-linecap="butt" stroke-linejoin="miter"/>
<line x1="262.4" x2="262.4" y1="974.25" y2="976.15" stroke="#c9c9c9" stroke-width="2.9"/>
<line x1="399.1" x2="399.1" y1="974.25" y2="976.15" stroke="#c9c9c9" stroke-width="2.9"/>
<line x1="531.3" x2="531.3" y1="974.25" y2="976.15" stroke="#c9c9c9" stroke-width="2.9"/>
<line x1="668.0" x2="668.0" y1="974.25" y2="976.15" stroke="#c9c9c9" stroke-width="2.9"/>
<line x1="800.2" x2="800.2" y1="974.25" y2="976.15" stroke="#c9c9c9" stroke-width="2.9"/>
<line x1="936.9" x2="936.9" y1="974.25" y2="976.15" stroke="#c9c9c9" stroke-width="2.9"/>
<line x1="1073.5" x2="1073.5" y1="974.25" y2="976.15" stroke="#c9c9c9" stroke-width="2.9"/>
<line x1="1205.8" x2="1205.8" y1="974.25" y2="976.15" stroke="#c9c9c9" stroke-width="2.9"/>
<line x1="1342.4" x2="1342.4" y1="974.25" y2="976.15" stroke="#c9c9c9" stroke-width="2.9"/>
<line x1="1474.7" x2="1474.7" y1="974.25" y2="976.15" stroke="#c9c9c9" stroke-width="2.9"/>
<line x1="1611.3" x2="1611.3" y1="974.25" y2="976.15" stroke="#c9c9c9" stroke-width="2.9"/>
<line x1="1748.0" x2="1748.0" y1="974.25" y2="976.15" stroke="#c9c9c9" stroke-width="2.9"/>
<line x1="1871.4" x2="1871.4" y1="974.25" y2="976.15" stroke="#c9c9c9" stroke-width="2.9"/>
<line x1="1951.5" x2="1951.5" y1="974.2" y2="1388.3" stroke="#000" stroke-width="3.2"/>
<line x1="179" x2="185.5" y1="1043.9" y2="1043.9" stroke="#1a1a1a" stroke-width="2.4"/>
<text x="171.4" y="1056.3" font-size="35.2" letter-spacing="-0.62" text-anchor="end" font-family="Liberation Sans, sans-serif">0.4</text>
<line x1="179" x2="185.5" y1="1188.8" y2="1188.8" stroke="#1a1a1a" stroke-width="2.4"/>
<text x="171.4" y="1201.2" font-size="35.2" letter-spacing="-0.62" text-anchor="end" font-family="Liberation Sans, sans-serif">0.2</text>
<line x1="179" x2="185.5" y1="1333.7" y2="1333.7" stroke="#1a1a1a" stroke-width="2.4"/>
<text x="171.4" y="1346.1" font-size="35.2" letter-spacing="-0.62" text-anchor="end" font-family="Liberation Sans, sans-serif">0.0</text>
<line x1="1953.2" x2="1959.8" y1="1007.6" y2="1007.6" stroke="#1a1a1a" stroke-width="2.4"/>
<text x="1966.3" y="1020.0" font-size="35.2" letter-spacing="-0.62" font-family="Liberation Sans, sans-serif">0</text>
<line x1="1953.2" x2="1959.8" y1="1128.4" y2="1128.4" stroke="#1a1a1a" stroke-width="2.4"/>
<text x="1966.3" y="1140.8" font-size="35.2" letter-spacing="-0.62" font-family="Liberation Sans, sans-serif">-20</text>
<line x1="1953.2" x2="1959.8" y1="1249.3" y2="1249.3" stroke="#1a1a1a" stroke-width="2.4"/>
<text x="1966.3" y="1261.7" font-size="35.2" letter-spacing="-0.62" font-family="Liberation Sans, sans-serif">-40</text>
<line x1="1953.2" x2="1959.8" y1="1370.2" y2="1370.2" stroke="#1a1a1a" stroke-width="2.4"/>
<text x="1966.3" y="1382.6" font-size="35.2" letter-spacing="-0.62" font-family="Liberation Sans, sans-serif">-60</text>
<line x1="262.4" x2="262.4" y1="1387.9" y2="1394.3" stroke="#1a1a1a" stroke-width="2.4"/>
<line x1="399.1" x2="399.1" y1="1387.9" y2="1394.3" stroke="#1a1a1a" stroke-width="2.4"/>
<line x1="531.3" x2="531.3" y1="1387.9" y2="1394.3" stroke="#1a1a1a" stroke-width="2.4"/>
<line x1="668.0" x2="668.0" y1="1387.9" y2="1394.3" stroke="#1a1a1a" stroke-width="2.4"/>
<line x1="800.2" x2="800.2" y1="1387.9" y2="1394.3" stroke="#1a1a1a" stroke-width="2.4"/>
<line x1="936.9" x2="936.9" y1="1387.9" y2="1394.3" stroke="#1a1a1a" stroke-width="2.4"/>
<line x1="1073.5" x2="1073.5" y1="1387.9" y2="1394.3" stroke="#1a1a1a" stroke-width="2.4"/>
<line x1="1205.8" x2="1205.8" y1="1387.9" y2="1394.3" stroke="#1a1a1a" stroke-width="2.4"/>
<line x1="1342.4" x2="1342.4" y1="1387.9" y2="1394.3" stroke="#1a1a1a" stroke-width="2.4"/>
<line x1="1474.7" x2="1474.7" y1="1387.9" y2="1394.3" stroke="#1a1a1a" stroke-width="2.4"/>
<line x1="1611.3" x2="1611.3" y1="1387.9" y2="1394.3" stroke="#1a1a1a" stroke-width="2.4"/>
<line x1="1748.0" x2="1748.0" y1="1387.9" y2="1394.3" stroke="#1a1a1a" stroke-width="2.4"/>
<line x1="1871.4" x2="1871.4" y1="1387.9" y2="1394.3" stroke="#1a1a1a" stroke-width="2.4"/>
<text x="13.9" y="994.3" font-size="36.4" font-family="Liberation Sans, sans-serif">(c)</text>
<g transform="translate(91.7,1365) rotate(-90)">
<text x="1.4" y="0.0" font-size="34.5" font-family="Liberation Sans, sans-serif" >Soil</text>
<text x="68.9" y="0.0" font-size="34.5" font-family="Liberation Sans, sans-serif" letter-spacing="0.95">moisture</text>
<text x="212.2" y="0.0" font-size="40" font-family="Liberation Sans, sans-serif" >(</text>
<text x="226.1" y="0.0" font-size="34.5" font-family="Liberation Sans, sans-serif" >m</text>
<text x="256.6" y="-17.0" font-size="24" font-family="Liberation Sans, sans-serif" >−</text>
<text x="271.9" y="-17.3" font-size="24" font-family="Liberation Sans, sans-serif" >3</text>
<text x="294.3" y="0.0" font-size="34.5" font-family="Liberation Sans, sans-serif" >m</text>
<text x="325.4" y="-17.0" font-size="24" font-family="Liberation Sans, sans-serif" >−</text>
<text x="342.6" y="-17.3" font-size="24" font-family="Liberation Sans, sans-serif" >3</text>
<text x="353.6" y="0.0" font-size="40" font-family="Liberation Sans, sans-serif" >)</text>
</g>
<text transform="translate(2023.8,1181.3) rotate(90)" font-size="34.8" text-anchor="middle" font-family="Liberation Sans, sans-serif">WTL (cm)</text>
</g>
<g id="pd">
<line x1="264.3" x2="264.3" y1="1407.2" y2="1563.5" stroke="#aaaaaa" stroke-width="2.9"/>
<line x1="401.0" x2="401.0" y1="1407.2" y2="1563.5" stroke="#aaaaaa" stroke-width="2.9"/>
<line x1="533.3" x2="533.3" y1="1407.2" y2="1563.5" stroke="#aaaaaa" stroke-width="2.9"/>
<line x1="670.0" x2="670.0" y1="1407.2" y2="1563.5" stroke="#aaaaaa" stroke-width="2.9"/>
<line x1="802.2" x2="802.2" y1="1407.2" y2="1563.5" stroke="#aaaaaa" stroke-width="2.9"/>
<line x1="938.9" x2="938.9" y1="1407.2" y2="1563.5" stroke="#aaaaaa" stroke-width="2.9"/>
<line x1="1075.6" x2="1075.6" y1="1407.2" y2="1563.5" stroke="#aaaaaa" stroke-width="2.9"/>
<line x1="1207.9" x2="1207.9" y1="1407.2" y2="1563.5" stroke="#aaaaaa" stroke-width="2.9"/>
<line x1="1344.6" x2="1344.6" y1="1407.2" y2="1563.5" stroke="#aaaaaa" stroke-width="2.9"/>
<line x1="1476.9" x2="1476.9" y1="1407.2" y2="1563.5" stroke="#aaaaaa" stroke-width="2.9"/>
<line x1="1613.5" x2="1613.5" y1="1407.2" y2="1563.5" stroke="#aaaaaa" stroke-width="2.9"/>
<line x1="1750.2" x2="1750.2" y1="1407.2" y2="1563.5" stroke="#aaaaaa" stroke-width="2.9"/>
<line x1="1873.7" x2="1873.7" y1="1407.2" y2="1563.5" stroke="#aaaaaa" stroke-width="2.9"/>
<rect x="284.36" y="1555.3" width="3.97" height="1.4" fill="#000080"/>
<rect x="288.77" y="1543.7" width="3.97" height="13.0" fill="#000080"/>
<rect x="306.41" y="1555.3" width="3.97" height="1.4" fill="#000080"/>
<rect x="332.86" y="1542.7" width="3.97" height="14.0" fill="#000080"/>
<rect x="341.68" y="1556.1" width="3.97" height="0.6" fill="#000080"/>
<rect x="346.09" y="1550.8" width="3.97" height="5.9" fill="#000080"/>
<rect x="363.73" y="1555.6" width="3.97" height="1.1" fill="#000080"/>
<rect x="368.14" y="1549.4" width="3.97" height="7.3" fill="#000080"/>
<rect x="372.55" y="1555.6" width="3.97" height="1.1" fill="#000080"/>
<rect x="385.78" y="1556.1" width="3.97" height="0.6" fill="#000080"/>
<rect x="390.18" y="1555.3" width="3.97" height="1.4" fill="#000080"/>
<rect x="399.00" y="1547.6" width="3.97" height="9.1" fill="#000080"/>
<rect x="403.41" y="1549.7" width="3.97" height="7.0" fill="#000080"/>
<rect x="407.82" y="1555.6" width="3.97" height="1.1" fill="#000080"/>
<rect x="416.64" y="1548.7" width="3.97" height="8.0" fill="#000080"/>
<rect x="421.05" y="1539.4" width="3.97" height="17.3" fill="#000080"/>
<rect x="425.46" y="1540.6" width="3.97" height="16.1" fill="#000080"/>
<rect x="434.28" y="1549.4" width="3.97" height="7.3" fill="#000080"/>
<rect x="438.69" y="1556.1" width="3.97" height="0.6" fill="#000080"/>
<rect x="456.32" y="1556.1" width="3.97" height="0.6" fill="#000080"/>
<rect x="465.14" y="1535.2" width="3.97" height="21.5" fill="#000080"/>
<rect x="469.55" y="1527.2" width="3.97" height="29.5" fill="#000080"/>
<rect x="473.96" y="1551.5" width="3.97" height="5.2" fill="#000080"/>
<rect x="478.37" y="1532.1" width="3.97" height="24.6" fill="#000080"/>
<rect x="482.78" y="1555.6" width="3.97" height="1.1" fill="#000080"/>
<rect x="487.19" y="1555.6" width="3.97" height="1.1" fill="#000080"/>
<rect x="491.60" y="1551.8" width="3.97" height="4.9" fill="#000080"/>
<rect x="496.01" y="1555.3" width="3.97" height="1.4" fill="#000080"/>
<rect x="500.42" y="1476.5" width="3.97" height="80.2" fill="#000080"/>
<rect x="504.83" y="1553.6" width="3.97" height="3.1" fill="#000080"/>
<rect x="509.24" y="1467.6" width="3.97" height="89.1" fill="#000080"/>
<rect x="518.05" y="1512.1" width="3.97" height="44.6" fill="#000080"/>
<rect x="584.19" y="1553.6" width="3.97" height="3.1" fill="#000080"/>
<rect x="588.60" y="1443.3" width="3.97" height="113.4" fill="#000080"/>
<rect x="593.01" y="1550.1" width="3.97" height="6.6" fill="#000080"/>
<rect x="597.42" y="1550.5" width="3.97" height="6.2" fill="#000080"/>
<rect x="601.83" y="1552.9" width="3.97" height="3.8" fill="#000080"/>
<rect x="641.51" y="1493.6" width="3.97" height="63.1" fill="#000080"/>
<rect x="681.20" y="1551.4" width="3.97" height="5.3" fill="#000080"/>
<rect x="694.43" y="1531.0" width="3.97" height="25.7" fill="#000080"/>
<rect x="698.84" y="1555.3" width="3.97" height="1.4" fill="#000080"/>
<rect x="703.25" y="1556.1" width="3.97" height="0.6" fill="#000080"/>
<rect x="707.65" y="1555.3" width="3.97" height="1.4" fill="#000080"/>
<rect x="712.06" y="1556.0" width="3.97" height="0.7" fill="#000080"/>
<rect x="729.70" y="1508.3" width="3.97" height="48.4" fill="#000080"/>
<rect x="734.11" y="1493.1" width="3.97" height="63.6" fill="#000080"/>
<rect x="738.52" y="1427.6" width="3.97" height="129.1" fill="#000080"/>
<rect x="742.93" y="1509.0" width="3.97" height="47.7" fill="#000080"/>
<rect x="756.16" y="1556.1" width="3.97" height="0.6" fill="#000080"/>
<rect x="764.98" y="1533.6" width="3.97" height="23.1" fill="#000080"/>
<rect x="769.38" y="1556.1" width="3.97" height="0.6" fill="#000080"/>
<rect x="782.61" y="1504.4" width="3.97" height="52.3" fill="#000080"/>
<rect x="791.43" y="1494.3" width="3.97" height="62.4" fill="#000080"/>
<rect x="795.84" y="1552.5" width="3.97" height="4.2" fill="#000080"/>
<rect x="804.66" y="1510.7" width="3.97" height="46.0" fill="#000080"/>
<rect x="813.48" y="1529.2" width="3.97" height="27.5" fill="#000080"/>
<rect x="822.30" y="1556.1" width="3.97" height="0.6" fill="#000080"/>
<rect x="826.71" y="1550.1" width="3.97" height="6.6" fill="#000080"/>
<rect x="835.52" y="1555.6" width="3.97" height="1.1" fill="#000080"/>
<rect x="839.93" y="1527.2" width="3.97" height="29.5" fill="#000080"/>
<rect x="844.34" y="1510.1" width="3.97" height="46.6" fill="#000080"/>
<rect x="848.75" y="1540.1" width="3.97" height="16.6" fill="#000080"/>
<rect x="861.98" y="1413.9" width="3.97" height="142.8" fill="#000080"/>
<rect x="866.39" y="1556.1" width="3.97" height="0.6" fill="#000080"/>
<rect x="884.03" y="1556.1" width="3.97" height="0.6" fill="#000080"/>
<rect x="888.44" y="1554.6" width="3.97" height="2.1" fill="#000080"/>
<rect x="897.25" y="1556.1" width="3.97" height="0.6" fill="#000080"/>
<rect x="919.30" y="1546.6" width="3.97" height="10.1" fill="#000080"/>
<rect x="923.71" y="1555.6" width="3.97" height="1.1" fill="#000080"/>
<rect x="928.12" y="1432.8" width="3.97" height="123.9" fill="#000080"/>
<rect x="932.53" y="1502.0" width="3.97" height="54.7" fill="#000080"/>
<rect x="936.94" y="1524.4" width="3.97" height="32.3" fill="#000080"/>
<rect x="941.35" y="1495.4" width="3.97" height="61.3" fill="#000080"/>
<rect x="945.76" y="1545.5" width="3.97" height="11.2" fill="#000080"/>
<rect x="950.17" y="1532.4" width="3.97" height="24.3" fill="#000080"/>
<rect x="958.98" y="1546.9" width="3.97" height="9.8" fill="#000080"/>
<rect x="967.80" y="1552.9" width="3.97" height="3.8" fill="#000080"/>
<rect x="976.62" y="1546.6" width="3.97" height="10.1" fill="#000080"/>
<rect x="981.03" y="1544.8" width="3.97" height="11.9" fill="#000080"/>
<rect x="985.44" y="1520.9" width="3.97" height="35.8" fill="#000080"/>
<rect x="989.85" y="1526.8" width="3.97" height="29.9" fill="#000080"/>
<rect x="994.26" y="1471.4" width="3.97" height="85.3" fill="#000080"/>
<rect x="998.67" y="1546.6" width="3.97" height="10.1" fill="#000080"/>
<rect x="1003.08" y="1526.8" width="3.97" height="29.9" fill="#000080"/>
<rect x="1007.49" y="1504.1" width="3.97" height="52.6" fill="#000080"/>
<rect x="1011.90" y="1548.0" width="3.97" height="8.7" fill="#000080"/>
<rect x="1016.31" y="1541.5" width="3.97" height="15.2" fill="#000080"/>
<rect x="1025.12" y="1555.6" width="3.97" height="1.1" fill="#000080"/>
<rect x="1029.53" y="1528.6" width="3.97" height="28.1" fill="#000080"/>
<rect x="1033.94" y="1555.9" width="3.97" height="0.8" fill="#000080"/>
<rect x="1038.35" y="1555.9" width="3.97" height="0.8" fill="#000080"/>
<rect x="1042.76" y="1544.1" width="3.97" height="12.6" fill="#000080"/>
<rect x="1047.17" y="1552.8" width="3.97" height="3.9" fill="#000080"/>
<rect x="1060.40" y="1531.0" width="3.97" height="25.7" fill="#000080"/>
<rect x="1064.81" y="1555.6" width="3.97" height="1.1" fill="#000080"/>
<rect x="1082.44" y="1456.7" width="3.97" height="100.0" fill="#000080"/>
<rect x="1086.85" y="1539.2" width="3.97" height="17.5" fill="#000080"/>
<rect x="1192.68" y="1478.6" width="3.97" height="78.1" fill="#000080"/>
<rect x="1197.09" y="1534.0" width="3.97" height="22.7" fill="#000080"/>
<rect x="1210.31" y="1555.6" width="3.97" height="1.1" fill="#000080"/>
<rect x="1232.36" y="1555.6" width="3.97" height="1.1" fill="#000080"/>
<rect x="1263.23" y="1552.8" width="3.97" height="3.9" fill="#000080"/>
<rect x="1267.64" y="1555.6" width="3.97" height="1.1" fill="#000080"/>
<rect x="1311.73" y="1554.6" width="3.97" height="2.1" fill="#000080"/>
<rect x="1316.14" y="1547.6" width="3.97" height="9.1" fill="#000080"/>
<rect x="1320.55" y="1511.4" width="3.97" height="45.3" fill="#000080"/>
<rect x="1324.96" y="1536.8" width="3.97" height="19.9" fill="#000080"/>
<rect x="1342.59" y="1556.3" width="3.97" height="0.4" fill="#000080"/>
<rect x="1347.00" y="1556.3" width="3.97" height="0.4" fill="#000080"/>
<rect x="1369.05" y="1552.5" width="3.97" height="4.2" fill="#000080"/>
<rect x="1373.46" y="1553.9" width="3.97" height="2.8" fill="#000080"/>
<rect x="1382.28" y="1550.1" width="3.97" height="6.6" fill="#000080"/>
<rect x="1391.10" y="1556.2" width="3.97" height="0.5" fill="#000080"/>
<rect x="1395.51" y="1556.2" width="3.97" height="0.5" fill="#000080"/>
<rect x="1404.32" y="1539.9" width="3.97" height="16.8" fill="#000080"/>
<rect x="1408.73" y="1551.5" width="3.97" height="5.2" fill="#000080"/>
<rect x="1413.14" y="1538.7" width="3.97" height="18.0" fill="#000080"/>
<rect x="1417.55" y="1450.5" width="3.97" height="106.2" fill="#000080"/>
<rect x="1421.96" y="1544.5" width="3.97" height="12.2" fill="#000080"/>
<rect x="1426.37" y="1519.5" width="3.97" height="37.2" fill="#000080"/>
<rect x="1430.78" y="1556.3" width="3.97" height="0.4" fill="#000080"/>
<rect x="1435.19" y="1548.3" width="3.97" height="8.4" fill="#000080"/>
<rect x="1439.60" y="1542.0" width="3.97" height="14.7" fill="#000080"/>
<rect x="1444.01" y="1530.5" width="3.97" height="26.2" fill="#000080"/>
<rect x="1448.42" y="1503.8" width="3.97" height="52.9" fill="#000080"/>
<rect x="1452.83" y="1544.5" width="3.97" height="12.2" fill="#000080"/>
<rect x="1457.24" y="1552.5" width="3.97" height="4.2" fill="#000080"/>
<rect x="1466.05" y="1550.7" width="3.97" height="6.0" fill="#000080"/>
<rect x="1474.87" y="1553.9" width="3.97" height="2.8" fill="#000080"/>
<rect x="1479.28" y="1555.3" width="3.97" height="1.4" fill="#000080"/>
<rect x="1488.10" y="1550.1" width="3.97" height="6.6" fill="#000080"/>
<rect x="1492.51" y="1553.2" width="3.97" height="3.5" fill="#000080"/>
<rect x="1501.33" y="1520.2" width="3.97" height="36.5" fill="#000080"/>
<rect x="1505.74" y="1555.3" width="3.97" height="1.4" fill="#000080"/>
<rect x="1527.78" y="1552.5" width="3.97" height="4.2" fill="#000080"/>
<rect x="1545.42" y="1549.4" width="3.97" height="7.3" fill="#000080"/>
<rect x="1549.83" y="1553.9" width="3.97" height="2.8" fill="#000080"/>
<rect x="1554.24" y="1555.6" width="3.97" height="1.1" fill="#000080"/>
<rect x="1558.65" y="1552.5" width="3.97" height="4.2" fill="#000080"/>
<rect x="1567.47" y="1556.1" width="3.97" height="0.6" fill="#000080"/>
<rect x="1571.88" y="1555.6" width="3.97" height="1.1" fill="#000080"/>
<rect x="1576.29" y="1515.3" width="3.97" height="41.4" fill="#000080"/>
<rect x="1580.70" y="1547.2" width="3.97" height="9.5" fill="#000080"/>
<rect x="1585.11" y="1537.3" width="3.97" height="19.4" fill="#000080"/>
<rect x="1602.74" y="1556.2" width="3.97" height="0.5" fill="#000080"/>
<rect x="1607.15" y="1556.2" width="3.97" height="0.5" fill="#000080"/>
<rect x="1611.56" y="1555.6" width="3.97" height="1.1" fill="#000080"/>
<rect x="1615.97" y="1548.6" width="3.97" height="8.1" fill="#000080"/>
<rect x="1620.38" y="1556.1" width="3.97" height="0.6" fill="#000080"/>
<rect x="1633.61" y="1547.6" width="3.97" height="9.1" fill="#000080"/>
<rect x="1638.02" y="1545.8" width="3.97" height="10.9" fill="#000080"/>
<rect x="1642.43" y="1555.6" width="3.97" height="1.1" fill="#000080"/>
<rect x="1646.84" y="1553.9" width="3.97" height="2.8" fill="#000080"/>
<rect x="1651.24" y="1547.6" width="3.97" height="9.1" fill="#000080"/>
<rect x="1655.65" y="1551.5" width="3.97" height="5.2" fill="#000080"/>
<rect x="1660.06" y="1534.3" width="3.97" height="22.4" fill="#000080"/>
<rect x="1664.47" y="1524.7" width="3.97" height="32.0" fill="#000080"/>
<rect x="1668.88" y="1554.6" width="3.97" height="2.1" fill="#000080"/>
<rect x="1682.11" y="1553.9" width="3.97" height="2.8" fill="#000080"/>
<rect x="1686.52" y="1548.7" width="3.97" height="8.0" fill="#000080"/>
<rect x="1695.34" y="1553.2" width="3.97" height="3.5" fill="#000080"/>
<rect x="1699.75" y="1555.6" width="3.97" height="1.1" fill="#000080"/>
<rect x="1704.16" y="1555.3" width="3.97" height="1.4" fill="#000080"/>
<rect x="1708.57" y="1555.3" width="3.97" height="1.4" fill="#000080"/>
<rect x="1717.38" y="1550.4" width="3.97" height="6.3" fill="#000080"/>
<rect x="1726.20" y="1555.3" width="3.97" height="1.4" fill="#000080"/>
<rect x="1735.02" y="1546.9" width="3.97" height="9.8" fill="#000080"/>
<rect x="1739.43" y="1552.8" width="3.97" height="3.9" fill="#000080"/>
<rect x="1743.84" y="1554.3" width="3.97" height="2.4" fill="#000080"/>
<rect x="1748.25" y="1554.6" width="3.97" height="2.1" fill="#000080"/>
<rect x="1752.66" y="1555.6" width="3.97" height="1.1" fill="#000080"/>
<rect x="1757.07" y="1552.1" width="3.97" height="4.6" fill="#000080"/>
<rect x="1761.48" y="1546.5" width="3.97" height="10.2" fill="#000080"/>
<rect x="1814.39" y="1540.6" width="3.97" height="16.1" fill="#000080"/>
<rect x="1818.80" y="1556.3" width="3.97" height="0.4" fill="#000080"/>
<rect x="1823.21" y="1543.8" width="3.97" height="12.9" fill="#000080"/>
<rect x="1827.62" y="1547.2" width="3.97" height="9.5" fill="#000080"/>
<rect x="1832.03" y="1538.7" width="3.97" height="18.0" fill="#000080"/>
<rect x="1840.84" y="1552.1" width="3.97" height="4.6" fill="#000080"/>
<rect x="1845.25" y="1548.3" width="3.97" height="8.4" fill="#000080"/>
<rect x="1854.07" y="1554.6" width="3.97" height="2.1" fill="#000080"/>
<rect x="1858.48" y="1553.5" width="3.97" height="3.2" fill="#000080"/>
<rect x="1862.89" y="1545.1" width="3.97" height="11.6" fill="#000080"/>
<rect x="1867.30" y="1518.4" width="3.97" height="38.3" fill="#000080"/>
<rect x="187.4" y="1407.2" width="1763.5" height="156.3" fill="none" stroke="#000" stroke-width="1.9"/>
<path d="M186.8 1406.2 L186.8 1563.5 L1951.9 1563.5" fill="none" stroke="#000" stroke-width="3.2" stroke-linecap="butt" stroke-linejoin="miter"/>
<line x1="264.3" x2="264.3" y1="1406.20" y2="1408.10" stroke="#c9c9c9" stroke-width="2.9"/>
<line x1="401.0" x2="401.0" y1="1406.20" y2="1408.10" stroke="#c9c9c9" stroke-width="2.9"/>
<line x1="533.3" x2="533.3" y1="1406.20" y2="1408.10" stroke="#c9c9c9" stroke-width="2.9"/>
<line x1="670.0" x2="670.0" y1="1406.20" y2="1408.10" stroke="#c9c9c9" stroke-width="2.9"/>
<line x1="802.2" x2="802.2" y1="1406.20" y2="1408.10" stroke="#c9c9c9" stroke-width="2.9"/>
<line x1="938.9" x2="938.9" y1="1406.20" y2="1408.10" stroke="#c9c9c9" stroke-width="2.9"/>
<line x1="1075.6" x2="1075.6" y1="1406.20" y2="1408.10" stroke="#c9c9c9" stroke-width="2.9"/>
<line x1="1207.9" x2="1207.9" y1="1406.20" y2="1408.10" stroke="#c9c9c9" stroke-width="2.9"/>
<line x1="1344.6" x2="1344.6" y1="1406.20" y2="1408.10" stroke="#c9c9c9" stroke-width="2.9"/>
<line x1="1476.9" x2="1476.9" y1="1406.20" y2="1408.10" stroke="#c9c9c9" stroke-width="2.9"/>
<line x1="1613.5" x2="1613.5" y1="1406.20" y2="1408.10" stroke="#c9c9c9" stroke-width="2.9"/>
<line x1="1750.2" x2="1750.2" y1="1406.20" y2="1408.10" stroke="#c9c9c9" stroke-width="2.9"/>
<line x1="1873.7" x2="1873.7" y1="1406.20" y2="1408.10" stroke="#c9c9c9" stroke-width="2.9"/>
<line x1="179" x2="185.3" y1="1429.9" y2="1429.9" stroke="#1a1a1a" stroke-width="2.4"/>
<text x="171.4" y="1442.3" font-size="35.2" letter-spacing="-0.62" text-anchor="end" font-family="Liberation Sans, sans-serif">20</text>
<line x1="179" x2="185.3" y1="1493.3" y2="1493.3" stroke="#1a1a1a" stroke-width="2.4"/>
<text x="171.4" y="1505.7" font-size="35.2" letter-spacing="-0.62" text-anchor="end" font-family="Liberation Sans, sans-serif">10</text>
<line x1="179" x2="185.3" y1="1556.7" y2="1556.7" stroke="#1a1a1a" stroke-width="2.4"/>
<text x="171.4" y="1569.1" font-size="35.2" letter-spacing="-0.62" text-anchor="end" font-family="Liberation Sans, sans-serif">0</text>
<line x1="264.3" x2="264.3" y1="1565.2" y2="1571.6" stroke="#1a1a1a" stroke-width="2.4"/>
<text x="264.5" y="1603.1" font-size="35.3" text-anchor="middle" font-family="Liberation Sans, sans-serif">Mar</text>
<line x1="401.0" x2="401.0" y1="1565.2" y2="1571.6" stroke="#1a1a1a" stroke-width="2.4"/>
<text x="401.2" y="1603.1" font-size="35.3" text-anchor="middle" font-family="Liberation Sans, sans-serif">Apr</text>
<line x1="533.3" x2="533.3" y1="1565.2" y2="1571.6" stroke="#1a1a1a" stroke-width="2.4"/>
<text x="533.5" y="1603.1" font-size="35.3" text-anchor="middle" font-family="Liberation Sans, sans-serif">May</text>
<line x1="670.0" x2="670.0" y1="1565.2" y2="1571.6" stroke="#1a1a1a" stroke-width="2.4"/>
<text x="670.2" y="1603.1" font-size="35.3" text-anchor="middle" font-family="Liberation Sans, sans-serif">Jun</text>
<line x1="802.2" x2="802.2" y1="1565.2" y2="1571.6" stroke="#1a1a1a" stroke-width="2.4"/>
<text x="802.4" y="1603.1" font-size="35.3" text-anchor="middle" font-family="Liberation Sans, sans-serif">Jul</text>
<line x1="938.9" x2="938.9" y1="1565.2" y2="1571.6" stroke="#1a1a1a" stroke-width="2.4"/>
<text x="939.1" y="1603.1" font-size="35.3" text-anchor="middle" font-family="Liberation Sans, sans-serif">Aug</text>
<line x1="1075.6" x2="1075.6" y1="1565.2" y2="1571.6" stroke="#1a1a1a" stroke-width="2.4"/>
<text x="1075.8" y="1603.1" font-size="35.3" text-anchor="middle" font-family="Liberation Sans, sans-serif">Sep</text>
<line x1="1207.9" x2="1207.9" y1="1565.2" y2="1571.6" stroke="#1a1a1a" stroke-width="2.4"/>
<text x="1208.1" y="1603.1" font-size="35.3" text-anchor="middle" font-family="Liberation Sans, sans-serif">Oct</text>
<line x1="1344.6" x2="1344.6" y1="1565.2" y2="1571.6" stroke="#1a1a1a" stroke-width="2.4"/>
<text x="1344.8" y="1603.1" font-size="35.3" text-anchor="middle" font-family="Liberation Sans, sans-serif">Nov</text>
<line x1="1476.9" x2="1476.9" y1="1565.2" y2="1571.6" stroke="#1a1a1a" stroke-width="2.4"/>
<text x="1477.1" y="1603.1" font-size="35.3" text-anchor="middle" font-family="Liberation Sans, sans-serif">Dec</text>
<line x1="1613.5" x2="1613.5" y1="1565.2" y2="1571.6" stroke="#1a1a1a" stroke-width="2.4"/>
<text x="1613.7" y="1603.1" font-size="35.3" text-anchor="middle" font-family="Liberation Sans, sans-serif">Jan</text>
<line x1="1750.2" x2="1750.2" y1="1565.2" y2="1571.6" stroke="#1a1a1a" stroke-width="2.4"/>
<text x="1750.4" y="1603.1" font-size="35.3" text-anchor="middle" font-family="Liberation Sans, sans-serif">Feb</text>
<line x1="1873.7" x2="1873.7" y1="1565.2" y2="1571.6" stroke="#1a1a1a" stroke-width="2.4"/>
<text x="1873.9" y="1603.1" font-size="35.3" text-anchor="middle" font-family="Liberation Sans, sans-serif">Mar</text>
<text x="13.9" y="1425.3" font-size="36.4" font-family="Liberation Sans, sans-serif">(d)</text>
<text transform="translate(89.4,1485) rotate(-90)" font-size="34.8" text-anchor="middle" font-family="Liberation Sans, sans-serif">Precip. (mm)</text>
</g>
</svg>
</div>
</body></html>
